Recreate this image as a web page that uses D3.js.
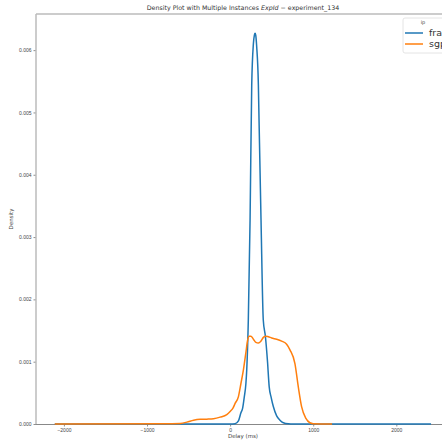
<!DOCTYPE html>
<html>
<head>
<meta charset="utf-8">
<script src="https://cdn.jsdelivr.net/npm/d3@7"></script>
<style>
  body { margin: 0; background: #fff; }
  svg { display: block; font-family: "DejaVu Sans", sans-serif; }
</style>
</head>
<body>
<div id="chart"></div>
<script>
// instances (legend "ip")
const instances = ["fra", "sgp"]
const colors = ["#1f77b4", "#ff7f0e"]

// delay (ms) / density
const fraDelay   = [-2110, 0, 60, 100, 130, 150, 171, 190, 200, 219, 240, 260, 280, 292, 300, 308, 320, 340, 348, 372, 399, 425, 450, 470, 495, 520, 560, 600, 640, 700, 760, 2418]
const fraDensity = [0, 0, 0.000005, 0.00005, 0.00018, 0.00025, 0.00044, 0.00065, 0.00087, 0.00167, 0.00327, 0.00544, 0.0061, 0.00624, 0.00627, 0.00624, 0.00605, 0.00544, 0.00488, 0.00327, 0.00167, 0.0014, 0.001, 0.0006, 0.00042, 0.00028, 0.00013, 0.00006, 0.00002, 0.000003, 0, 0]

const sgpDelay   = [-2110, -800, -600, -520, -440, -360, -280, -200, -120, -40, 0, 36, 60, 100, 130, 160, 190, 210, 230, 250, 280, 310, 340, 370, 400, 430, 460, 500, 560, 620, 680, 720, 780, 820, 860, 912, 960, 1000, 1227]
const sgpDensity = [0, 0.000003, 0.00001, 0.00003, 0.00006, 0.000075, 0.000078, 0.000085, 0.00011, 0.00015, 0.0002, 0.00026, 0.00033, 0.00044, 0.00065, 0.00087, 0.00115, 0.00134, 0.00141, 0.00141, 0.00136, 0.00131, 0.0013, 0.00133, 0.00139, 0.00141, 0.0014, 0.00138, 0.00136, 0.00133, 0.00128, 0.00119, 0.00097, 0.0006, 0.00028, 0.00009, 0.00002, 0.000005, 0]

const xTicks = [-2000, -1000, 0, 1000, 2000]
const yTicks = [0, 0.001, 0.002, 0.003, 0.004, 0.005, 0.006]

const width = 442, height = 441
const margin = { top: 14, left: 36, right: 450, bottom: 424 }

const svg = d3.select("#chart").append("svg")
    .attr("width", width)
    .attr("height", height)

const x = d3.scaleLinear().domain([-2336, 2646]).range([margin.left, margin.right])
const y = d3.scaleLinear().domain([0, 0.00658]).range([margin.bottom, margin.top])

// axes
const xAxis = svg.append("g")
    .attr("transform", `translate(0, ${margin.bottom})`)
    .call(d3.axisBottom(x).tickValues(xTicks).tickSize(2.5).tickPadding(2)
        .tickFormat(d => d < 0 ? "\u2212" + Math.abs(d) : d))
const yAxis = svg.append("g")
    .attr("transform", `translate(${margin.left}, 0)`)
    .call(d3.axisLeft(y).tickValues(yTicks).tickSize(2.5).tickPadding(2)
        .tickFormat(d3.format(".3f")))

for (const ax of [xAxis, yAxis]) {
    ax.select(".domain").remove()
    ax.selectAll(".tick line").attr("stroke", "#444").attr("stroke-width", 0.6)
    ax.selectAll(".tick text").attr("fill", "#444").style("font-size", "5px")
}

// spines
svg.append("line").attr("x1", margin.left).attr("x2", margin.right)
    .attr("y1", margin.top).attr("y2", margin.top)
    .attr("stroke", "#bbb").attr("stroke-width", 1.5)
svg.append("line").attr("x1", margin.left).attr("x2", margin.left)
    .attr("y1", margin.top).attr("y2", margin.bottom)
    .attr("stroke", "#bbb").attr("stroke-width", 1.5)
svg.append("line").attr("x1", margin.right).attr("x2", margin.right)
    .attr("y1", margin.top).attr("y2", margin.bottom)
    .attr("stroke", "#bbb").attr("stroke-width", 1.5)
svg.append("line").attr("x1", margin.left).attr("x2", margin.right)
    .attr("y1", margin.bottom + 0.5).attr("y2", margin.bottom + 0.5)
    .attr("stroke", "#888").attr("stroke-width", 1)

// density lines
const line = d3.line()
    .x(d => x(d[0]))
    .y(d => y(d[1]))
    .curve(d3.curveMonotoneX)

const series = [
    d3.zip(fraDelay, fraDensity),
    d3.zip(sgpDelay, sgpDensity)
]

svg.selectAll(".kde")
    .data(series)
    .enter()
    .append("path")
    .attr("class", "kde")
    .attr("d", line)
    .attr("fill", "none")
    .attr("stroke", (d, i) => colors[i])
    .attr("stroke-width", 1.5)
    .attr("stroke-linejoin", "round")

// labels
svg.append("text")
    .attr("x", 243).attr("y", 10)
    .attr("text-anchor", "middle")
    .style("font-size", "6.3px").attr("fill", "#333")
    .call(t => {
        t.append("tspan").text("Density Plot with Multiple Instances ")
        t.append("tspan").style("font-style", "italic").text("ExpId")
        t.append("tspan").text(" \u2212 experiment_134")
    })

svg.append("text")
    .attr("x", 243).attr("y", 438)
    .attr("text-anchor", "middle")
    .style("font-size", "5.5px").attr("fill", "#444")
    .text("Delay (ms)")

svg.append("text")
    .attr("transform", "translate(13, 219) rotate(-90)")
    .attr("text-anchor", "middle")
    .style("font-size", "5.5px").attr("fill", "#444")
    .text("Density")

// legend
const legend = svg.append("g").attr("transform", "translate(403, 18)")
legend.append("rect")
    .attr("width", 60).attr("height", 35).attr("rx", 2)
    .attr("fill", "#fff").attr("fill-opacity", 0.8)
    .attr("stroke", "#ddd").attr("stroke-width", 0.8)
legend.append("text")
    .attr("x", 20).attr("y", 6)
    .attr("text-anchor", "middle")
    .style("font-size", "5px").attr("fill", "#444")
    .text("ip")

const item = legend.selectAll(".item")
    .data(instances)
    .enter()
    .append("g")
    .attr("class", "item")
    .attr("transform", (d, i) => `translate(0, ${15 + i * 11})`)
item.append("line")
    .attr("x1", 2).attr("x2", 20)
    .attr("stroke", (d, i) => colors[i])
    .attr("stroke-width", 1.5)
item.append("text")
    .attr("x", 26).attr("y", 3.3)
    .style("font-size", "9.5px").attr("fill", "#333")
    .text(d => d)
</script>
</body>
</html>
